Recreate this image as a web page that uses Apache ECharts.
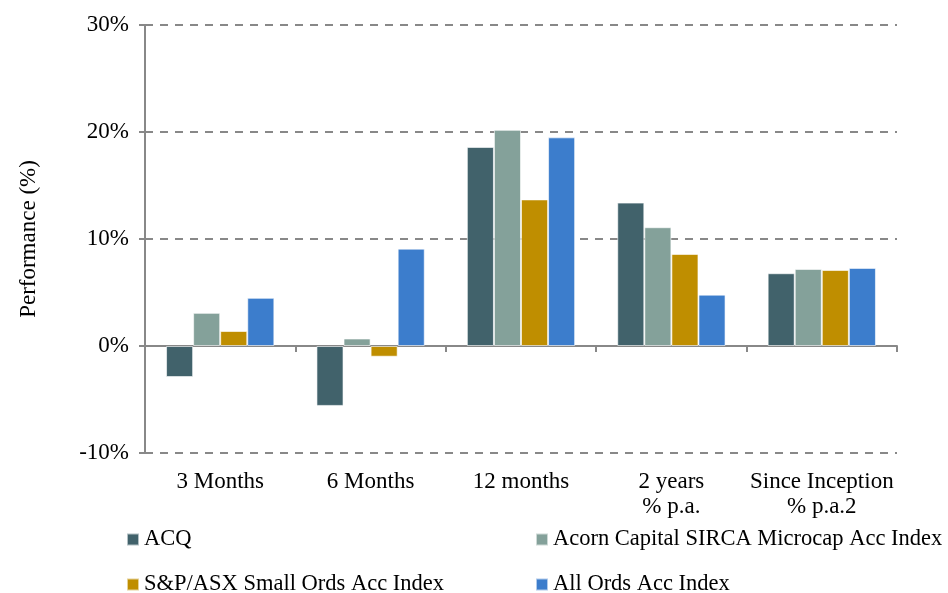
<!DOCTYPE html>
<html>
<head>
<meta charset="utf-8">
<script src="https://cdn.jsdelivr.net/npm/echarts@6/dist/echarts.min.js"></script>
<style>
  html, body { margin: 0; padding: 0; background: #fff; }
  #chart { width: 948px; height: 593px; }
</style>
</head>
<body>
<div id="chart"></div>
<script>
// periods on the x axis
var categories = ['3 Months', '6 Months', '12 months', '2 years\n% p.a.', 'Since Inception\n% p.a.2']
var seriesNames = ['ACQ', 'Acorn Capital SIRCA Microcap Acc Index', 'S&P/ASX Small Ords Acc Index', 'All Ords Acc Index']
// performance in %
var acq = [-2.9, -5.6, 18.6, 13.4, 6.8]
var acorn = [3.1, 0.7, 20.2, 11.1, 7.2]
var smallOrds = [1.4, -1.0, 13.7, 8.6, 7.1]
var allOrds = [4.5, 9.1, 19.5, 4.8, 7.3]
var colors = ['#41626b', '#84a19a', '#bf8e00', '#3c7dcc']

var font = 'Liberation Serif'
var chart = echarts.init(document.getElementById('chart'))

function legendAt (name, left, top) {
  return {
    data: [name],
    left: left,
    top: top,
    padding: 0,
    itemWidth: 12,
    itemHeight: 12,
    itemGap: 0,
    icon: 'rect',
    textStyle: { fontFamily: font, fontSize: 22.5, color: '#000', padding: [0, 0, 0, 0] }
  }
}

var allData = [acq, acorn, smallOrds, allOrds]

chart.setOption({
  color: colors,
  animation: false,
  grid: { left: 145, right: 51, top: 25, bottom: 140 },
  legend: [
    legendAt(seriesNames[0], 126, 528),
    legendAt(seriesNames[1], 535, 528),
    legendAt(seriesNames[2], 126, 573),
    legendAt(seriesNames[3], 535, 573)
  ],
  xAxis: [
    {
      type: 'category',
      data: categories,
      axisLine: { onZero: true, lineStyle: { color: '#888', width: 2 } },
      axisTick: { show: true, length: 6, lineStyle: { color: '#888', width: 2 } },
      axisLabel: { show: false },
      splitLine: { show: false }
    },
    {
      type: 'category',
      data: categories,
      position: 'bottom',
      axisLine: { show: false },
      axisTick: { show: false },
      axisLabel: {
        margin: 16,
        fontFamily: font,
        fontSize: 23,
        lineHeight: 25,
        color: '#000',
        interval: 0
      }
    }
  ],
  yAxis: {
    type: 'value',
    min: -10,
    max: 30,
    interval: 10,
    name: 'Performance (%)',
    nameLocation: 'middle',
    nameGap: 105,
    nameTextStyle: { fontFamily: font, fontSize: 23, color: '#000' },
    axisLine: { show: true, lineStyle: { color: '#888', width: 2 } },
    axisTick: { show: true, length: 6, lineStyle: { color: '#888', width: 2 } },
    axisLabel: {
      margin: 16,
      fontFamily: font,
      fontSize: 23,
      color: '#000',
      formatter: function (v) { return v + '%' }
    },
    splitLine: { lineStyle: { color: '#888', width: 2, type: [8, 7] } }
  },
  series: seriesNames.map(function (name, i) {
    return {
      name: name,
      type: 'bar',
      xAxisIndex: 0,
      data: allData[i],
      barGap: '0%',
      barCategoryGap: '28%',
      itemStyle: { borderColor: 'rgba(255,255,255,0.6)', borderWidth: 1 }
    }
  })
})
</script>
</body>
</html>
